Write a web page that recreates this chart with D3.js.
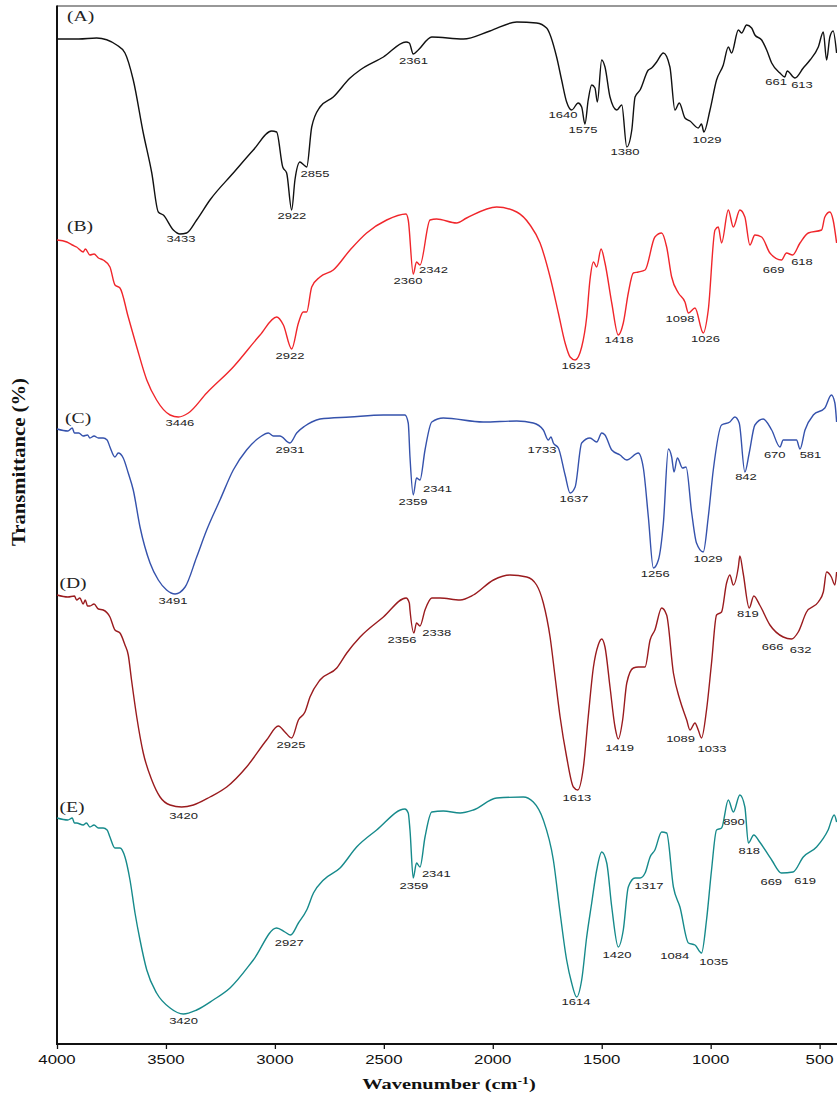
<!DOCTYPE html>
<html>
<head>
<meta charset="utf-8">
<script src="https://cdn.jsdelivr.net/npm/d3@7"></script>
<style>
    body { margin: 0; background: #fff; }
    svg { display: block; }
    .peak { font-family: Arial, "Liberation Sans", sans-serif; font-size: 9.5px; fill: #222; }
    .panel { font-family: "Times New Roman", "Liberation Serif", serif; font-size: 14px; fill: #222; }
    .tick-label { font-family: Arial, "Liberation Sans", sans-serif; font-size: 12px; fill: #111; }
    .title { font-family: "Times New Roman", "Liberation Serif", serif; font-weight: bold; fill: #111; }
</style>
</head>
<body>
<svg id="chart"></svg>
<script>
// ---- data (wavenumber in cm-1, transmittance in stacked a.u.) ----
const wavenumberTicks = [4000, 3500, 3000, 2500, 2000, 1500, 1000, 500];
const panelNames = ['(A)', '(B)', '(C)', '(D)', '(E)'];
const panelWave = [3954, 3954, 3963, 3989, 3989];
const panelTrans = [102.8, 81.8, 62.6, 46.1, 23.7];

const waveA = [4000, 3900, 3818, 3726, 3688, 3650, 3604, 3565, 3535, 3512, 3466, 3436, 3405, 3359, 3298, 3191, 3099, 3015, 2992, 2964, 2946, 2923, 2908, 2885, 2867, 2854, 2831, 2793, 2732, 2655, 2609, 2502, 2398, 2383, 2365, 2342, 2280, 2135, 2013, 1890, 1799, 1753, 1707, 1684, 1661, 1638, 1608, 1592, 1577, 1562, 1546, 1531, 1520, 1500, 1485, 1462, 1431, 1408, 1385, 1362, 1347, 1324, 1286, 1271, 1248, 1217, 1187, 1164, 1144, 1118, 1095, 1057, 1042, 1031, 1003, 973, 942, 919, 904, 873, 858, 835, 812, 797, 766, 743, 720, 682, 660, 649, 613, 575, 544, 506, 483, 468, 453, 438, 422];
const transA = [100.5, 100.5, 100.6, 99.9, 99.1, 96.4, 91.1, 87.1, 83.2, 82.9, 81.4, 81.0, 81.1, 82.4, 84.4, 87.1, 89.4, 91.3, 91.2, 87.7, 87.1, 83.4, 86.4, 88.2, 87.9, 87.7, 91.7, 93.7, 94.7, 96.6, 97.4, 98.7, 100.2, 100.1, 99.0, 99.4, 100.7, 100.5, 101.3, 102.2, 102.1, 101.6, 98.7, 96.4, 94.2, 93.4, 94.1, 93.7, 92.0, 94.4, 95.9, 95.6, 94.2, 98.4, 97.7, 94.7, 93.4, 93.9, 89.7, 91.4, 94.7, 95.4, 97.4, 97.6, 98.2, 99.1, 97.7, 93.4, 94.1, 92.6, 92.3, 91.6, 92.0, 91.2, 93.4, 96.4, 97.9, 99.7, 99.1, 101.4, 101.1, 101.9, 101.6, 100.9, 100.4, 99.4, 98.1, 97.1, 96.7, 97.3, 96.6, 97.6, 98.4, 99.7, 101.2, 98.4, 100.7, 101.3, 99.1];

const waveB = [4000, 3955, 3930, 3910, 3880, 3870, 3849, 3830, 3810, 3788, 3757, 3734, 3711, 3673, 3634, 3588, 3543, 3481, 3443, 3397, 3313, 3191, 3068, 2992, 2961, 2923, 2892, 2870, 2854, 2831, 2793, 2732, 2655, 2579, 2487, 2398, 2388, 2365, 2350, 2334, 2288, 2258, 2166, 2120, 1982, 1890, 1829, 1783, 1737, 1699, 1668, 1645, 1622, 1592, 1569, 1554, 1538, 1523, 1503, 1485, 1454, 1424, 1401, 1378, 1355, 1332, 1301, 1256, 1225, 1202, 1179, 1148, 1118, 1102, 1072, 1034, 1011, 980, 965, 950, 919, 896, 866, 843, 820, 797, 766, 728, 675, 652, 624, 590, 552, 491, 476, 453, 438, 422];
const transB = [80.4, 80.2, 79.9, 79.7, 79.2, 79.5, 78.9, 79.0, 78.6, 78.4, 77.7, 75.9, 75.6, 72.7, 69.7, 66.4, 64.4, 62.9, 62.7, 63.1, 65.1, 67.7, 70.9, 72.7, 71.9, 69.5, 72.1, 73.2, 73.2, 75.7, 76.7, 77.4, 79.4, 81.1, 82.4, 83.0, 82.4, 77.0, 78.2, 77.9, 82.4, 82.5, 82.1, 82.6, 83.7, 83.2, 81.9, 80.1, 76.7, 73.1, 70.1, 68.7, 68.4, 69.7, 72.7, 76.4, 78.2, 77.7, 79.5, 78.1, 74.1, 70.9, 72.1, 75.1, 77.1, 77.2, 77.4, 80.7, 81.1, 79.7, 76.7, 75.1, 74.2, 73.1, 73.6, 71.1, 73.4, 81.4, 81.7, 80.1, 83.4, 81.7, 83.4, 82.7, 79.9, 80.9, 80.7, 79.1, 78.4, 79.1, 78.9, 80.1, 81.1, 81.4, 82.7, 83.2, 82.4, 80.1];

const waveC = [4000, 3950, 3930, 3920, 3900, 3880, 3860, 3849, 3830, 3810, 3788, 3770, 3757, 3734, 3719, 3696, 3673, 3650, 3619, 3573, 3535, 3497, 3458, 3412, 3359, 3313, 3252, 3191, 3130, 3068, 3030, 3007, 2977, 2931, 2900, 2862, 2831, 2793, 2655, 2502, 2403, 2388, 2380, 2365, 2350, 2334, 2311, 2280, 2227, 2044, 1890, 1814, 1768, 1745, 1733, 1722, 1699, 1668, 1645, 1622, 1592, 1554, 1523, 1500, 1485, 1454, 1416, 1385, 1332, 1309, 1286, 1263, 1240, 1217, 1194, 1179, 1168, 1153, 1129, 1113, 1087, 1065, 1034, 1011, 988, 950, 912, 889, 869, 843, 823, 797, 759, 720, 682, 667, 606, 590, 567, 529, 476, 446, 430, 422];
const transC = [61.5, 61.3, 61.6, 61.1, 61.1, 60.8, 60.9, 60.6, 60.8, 60.6, 60.6, 60.4, 59.7, 58.7, 59.1, 58.6, 57.1, 55.4, 51.7, 48.1, 46.4, 45.4, 45.0, 45.7, 48.7, 51.4, 54.4, 57.4, 59.4, 60.7, 61.1, 60.8, 60.8, 60.1, 61.1, 61.8, 62.2, 62.5, 62.7, 62.9, 62.9, 62.1, 58.7, 54.9, 56.6, 56.4, 59.4, 62.2, 62.6, 62.2, 62.3, 62.1, 61.4, 60.4, 60.7, 60.1, 59.6, 56.9, 55.1, 55.7, 60.1, 60.6, 60.2, 61.1, 60.9, 59.4, 58.9, 58.4, 59.1, 57.6, 52.7, 47.6, 48.4, 52.1, 59.5, 58.7, 57.2, 58.6, 57.6, 57.7, 53.1, 50.1, 49.2, 52.7, 57.4, 61.9, 62.2, 62.7, 62.1, 57.2, 59.1, 61.9, 62.5, 61.4, 59.7, 60.4, 60.4, 59.5, 61.4, 62.9, 63.6, 64.9, 64.1, 62.2];

const waveD = [4000, 3950, 3920, 3910, 3895, 3880, 3870, 3860, 3849, 3830, 3810, 3788, 3757, 3734, 3711, 3688, 3673, 3658, 3634, 3604, 3565, 3527, 3481, 3428, 3374, 3298, 3221, 3130, 3038, 2984, 2954, 2923, 2892, 2862, 2839, 2793, 2716, 2670, 2609, 2502, 2398, 2383, 2380, 2362, 2350, 2334, 2311, 2280, 2242, 2150, 2089, 1997, 1921, 1844, 1799, 1768, 1737, 1714, 1691, 1661, 1630, 1610, 1584, 1562, 1538, 1516, 1500, 1485, 1462, 1439, 1424, 1404, 1385, 1355, 1332, 1301, 1278, 1256, 1225, 1202, 1171, 1141, 1110, 1095, 1072, 1057, 1042, 1019, 996, 973, 950, 927, 912, 896, 873, 866, 851, 823, 802, 775, 728, 667, 629, 598, 560, 506, 483, 468, 446, 430, 422];
const transD = [44.9, 44.7, 44.8, 44.4, 44.6, 44.0, 44.4, 43.8, 43.8, 44.0, 43.5, 43.4, 42.7, 41.4, 41.1, 39.9, 38.9, 36.4, 32.7, 29.1, 26.4, 24.7, 23.9, 23.7, 23.9, 24.7, 25.7, 27.7, 30.4, 31.8, 31.2, 30.6, 32.4, 33.2, 34.7, 36.4, 37.6, 39.1, 40.7, 42.7, 44.6, 44.1, 43.4, 41.1, 42.1, 41.8, 43.4, 44.6, 44.6, 44.4, 44.9, 46.4, 46.9, 46.7, 45.9, 44.1, 40.7, 36.7, 32.7, 28.7, 25.7, 25.4, 27.7, 32.7, 37.7, 39.9, 40.5, 39.7, 35.7, 31.7, 30.5, 32.4, 36.1, 37.6, 37.7, 37.7, 40.4, 41.4, 43.6, 42.9, 37.1, 34.4, 32.4, 31.4, 32.1, 31.4, 30.6, 33.4, 38.1, 42.9, 43.2, 46.1, 46.9, 45.9, 47.7, 48.8, 47.1, 43.6, 44.8, 43.9, 41.9, 40.7, 40.5, 41.2, 43.2, 44.2, 45.2, 47.2, 46.7, 45.9, 47.2];

const waveE = [4000, 3950, 3930, 3920, 3910, 3880, 3865, 3849, 3830, 3810, 3788, 3770, 3757, 3734, 3711, 3688, 3665, 3642, 3619, 3588, 3543, 3481, 3420, 3359, 3283, 3206, 3099, 2992, 2954, 2928, 2892, 2854, 2823, 2777, 2701, 2625, 2533, 2403, 2388, 2380, 2365, 2350, 2334, 2311, 2280, 2227, 2150, 2089, 1982, 1860, 1814, 1768, 1722, 1691, 1661, 1638, 1615, 1592, 1569, 1546, 1523, 1500, 1477, 1454, 1424, 1401, 1378, 1347, 1324, 1301, 1278, 1256, 1225, 1202, 1171, 1141, 1102, 1072, 1042, 1019, 996, 973, 950, 919, 896, 866, 843, 827, 802, 775, 720, 675, 622, 575, 514, 461, 433, 422];
const transE = [22.6, 22.4, 22.6, 22.1, 22.1, 21.9, 22.1, 21.7, 21.9, 21.6, 21.6, 21.4, 20.7, 19.6, 19.6, 18.7, 16.4, 13.1, 10.4, 7.4, 5.1, 3.6, 3.0, 3.4, 4.4, 5.6, 8.4, 11.6, 11.2, 10.9, 12.1, 13.4, 15.1, 16.4, 17.6, 19.7, 21.4, 23.5, 23.1, 21.4, 16.6, 18.1, 17.7, 20.7, 23.2, 23.3, 23.1, 23.4, 24.6, 24.7, 24.2, 22.4, 18.4, 13.1, 8.4, 6.1, 4.7, 6.4, 10.7, 14.1, 17.4, 19.2, 18.1, 13.7, 9.7, 11.4, 15.7, 16.6, 16.6, 17.1, 18.7, 19.4, 21.2, 21.1, 15.7, 13.7, 10.1, 9.9, 9.1, 12.4, 17.4, 21.4, 21.6, 24.4, 23.2, 24.9, 23.7, 20.1, 20.9, 20.2, 18.4, 17.1, 17.2, 18.7, 19.7, 21.4, 22.9, 22.2];

// peak annotations: [label, wavenumber anchor, transmittance anchor]
const peaksA = [['3433', 3431, 80.5], ['2922', 2922, 82.8], ['2855', 2816, 87.0], ['2361', 2364, 98.3],
    ['1640', 1678, 92.9], ['1575', 1586, 91.4], ['1380', 1393, 89.2], ['1029', 1017, 90.4], ['661', 700, 96.2], ['613', 581, 95.9]];
const peaksB = [['3446', 3436, 62.1], ['2922', 2931, 68.8], ['2360', 2389, 76.3], ['2342', 2272, 77.4],
    ['1623', 1618, 67.8], ['1418', 1421, 70.4], ['1098', 1141, 72.5], ['1026', 1024, 70.5], ['669', 711, 77.4], ['618', 581, 78.2]];
const peaksC = [['3491', 3468, 44.3], ['2931', 2931, 59.4], ['2359', 2366, 54.2], ['2341', 2254, 55.5],
    ['1733', 1774, 59.4], ['1637', 1627, 54.5], ['1256', 1254, 47.0], ['1029', 1012, 48.5], ['842', 838, 56.7], ['670', 706, 58.9], ['581', 542, 58.9]];
const peaksD = [['3420', 3419, 22.8], ['2925', 2926, 29.9], ['2356', 2417, 40.4], ['2338', 2257, 41.1],
    ['1613', 1614, 24.6], ['1419', 1418, 29.6], ['1089', 1138, 30.5], ['1033', 994, 29.5], ['819', 829, 43.0], ['666', 716, 39.7], ['632', 587, 39.4]];
const peaksE = [['3420', 3419, 2.3], ['2927', 2934, 10.1], ['2359', 2362, 15.8], ['2341', 2259, 17.0],
    ['1614', 1618, 4.2], ['1420', 1430, 8.9], ['1317', 1283, 15.8], ['1084', 1165, 8.8], ['1035', 986, 8.2],
    ['890', 893, 22.2], ['818', 823, 19.3], ['669', 722, 16.2], ['619', 567, 16.3]];

const seriesColors = ['#111111', '#f0262b', '#3552ac', '#9a1b1e', '#168a8b'];

class SpectraChart {
    constructor(_config) {
        this.config = _config;
        this.series = [
            {wave: waveA, trans: transA, peaks: peaksA},
            {wave: waveB, trans: transB, peaks: peaksB},
            {wave: waveC, trans: transC, peaks: peaksC},
            {wave: waveD, trans: transD, peaks: peaksD},
            {wave: waveE, trans: transE, peaks: peaksE}
        ];
        this.initVis();
    }

    initVis() {
        let vis = this;
        const m = vis.config.margin;
        vis.svg = d3.select(vis.config.parentElement)
            .attr('width', vis.config.width)
            .attr('height', vis.config.height);

        // x runs high -> low wavenumber, the right side of the frame is cut off by the page
        vis.xScale = d3.scaleLinear().domain([4000, 400]).range([m.left, 841.4]);
        vis.yScale = d3.scaleLinear().domain([0, 103.8]).range([m.top + vis.config.plotHeight, m.top]);

        vis.line = d3.line()
            .x(d => vis.xScale(d[0]))
            .y(d => vis.yScale(d[1]))
            .curve(d3.curveMonotoneX);

        vis.renderVis();
    }

    // text in the reference is stretched horizontally
    stretched(g, x, y, sx) {
        return g.append('text').attr('transform', `translate(${x},${y}) scale(${sx},1)`);
    }

    renderVis() {
        let vis = this;
        const x0 = vis.xScale(4000), x1 = vis.xScale(400);
        const yTop = vis.yScale(103.8), yBot = vis.yScale(0);

        // frame
        vis.svg.append('line')
            .attr('x1', x0).attr('x2', x1).attr('y1', yTop).attr('y2', yTop)
            .attr('stroke', '#333').attr('stroke-width', 1.2);
        vis.svg.append('line')
            .attr('x1', x0).attr('x2', x0).attr('y1', yTop - 0.6).attr('y2', yBot)
            .attr('stroke', '#111').attr('stroke-width', 2);

        // bottom axis
        const xAxis = d3.axisBottom(vis.xScale)
            .tickValues(wavenumberTicks)
            .tickSize(5)
            .tickSizeOuter(0)
            .tickFormat('');
        const axisG = vis.svg.append('g')
            .attr('transform', `translate(0,${yBot})`)
            .call(xAxis);
        axisG.select('.domain').attr('stroke', '#111').attr('stroke-width', 2)
            .attr('d', `M${x0 - 1},0H${x1}`);
        axisG.selectAll('.tick line').attr('stroke', '#111').attr('stroke-width', 1.3);

        wavenumberTicks.forEach(t => {
            vis.stretched(vis.svg, vis.xScale(t), yBot + 16, 1.4)
                .attr('class', 'tick-label')
                .attr('text-anchor', 'middle')
                .attr('dy', '0.35em')
                .text(t);
        });

        // spectra
        vis.series.forEach((s, i) => {
            const pts = s.wave.map((w, k) => [w, s.trans[k]]);
            vis.svg.append('path')
                .datum(pts)
                .attr('fill', 'none')
                .attr('stroke', seriesColors[i])
                .attr('stroke-width', 1.4)
                .attr('stroke-linejoin', 'round')
                .attr('d', vis.line);

            vis.stretched(vis.svg, vis.xScale(panelWave[i]), vis.yScale(panelTrans[i]), 1.4)
                .attr('class', 'panel')
                .attr('dy', '0.35em')
                .text(panelNames[i]);

            s.peaks.forEach(p => {
                vis.stretched(vis.svg, vis.xScale(p[1]), vis.yScale(p[2]), 1.37)
                    .attr('class', 'peak')
                    .attr('text-anchor', 'middle')
                    .attr('dy', '0.35em')
                    .text(p[0]);
            });
        });

        // axis titles
        const xt = vis.stretched(vis.svg, 449, 1084, 1.36)
            .attr('class', 'title')
            .attr('text-anchor', 'middle')
            .attr('dy', '0.35em')
            .style('font-size', '15px');
        xt.append('tspan').text('Wavenumber (cm');
        xt.append('tspan').attr('dy', '-5').style('font-size', '10px').text('-1');
        xt.append('tspan').attr('dy', '5').text(')');

        vis.svg.append('text')
            .attr('class', 'title')
            .attr('transform', 'translate(18,462) scale(1.35,1) rotate(-90)')
            .attr('text-anchor', 'middle')
            .attr('dy', '0.35em')
            .attr('textLength', 168)
            .attr('lengthAdjust', 'spacingAndGlyphs')
            .style('font-size', '14px')
            .text('Transmittance (%)');
    }
}

new SpectraChart({
    parentElement: '#chart',
    width: 837,
    height: 1095,
    plotHeight: 1038,
    margin: {top: 6, left: 57}
});
</script>
</body>
</html>
